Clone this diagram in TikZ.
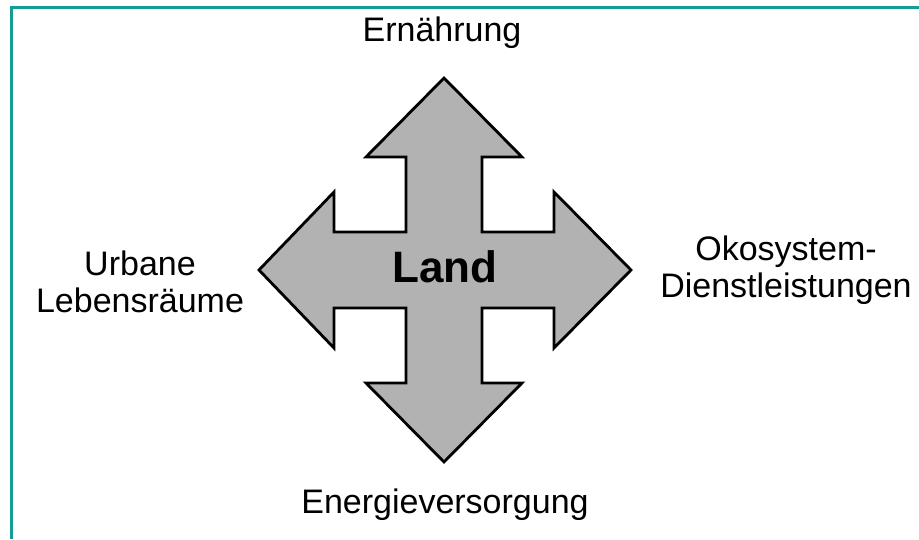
\documentclass[tikz,border=0pt]{standalone}
\usepackage{fontspec}
\setmainfont{Liberation Sans}
\usepackage{xcolor}
\usepackage{tikz}
\usetikzlibrary{positioning}

\definecolor{cornice}{RGB}{22,156,150}
\definecolor{grigio}{RGB}{178,178,178}

\begin{document}
\begin{tikzpicture}[x=1pt, y=-1pt,
	etichetta/.style={font=\fontsize{34}{37}\selectfont, align=center, inner sep=0pt}]
	\useasboundingbox (0,0) rectangle (919,539);
	
	% cornice
	\draw[cornice, line width=3pt] (11,539) -- (11,7) -- (919,7);
	
	% freccia a quattro punte
	\begin{scope}[shift={(444,270)}]
		\draw[fill=grigio, line width=2.8pt, line join=miter]
		(0,-192) -- (78,-113) -- (38,-113) -- (38,-38) -- (110,-38) -- (110,-78)
		-- (187,0) -- (110,78) -- (110,38) -- (38,38) -- (38,113) -- (78,113)
		-- (0,192) -- (-78,113) -- (-38,113) -- (-38,38) -- (-110,38) -- (-110,78)
		-- (-185,0) -- (-110,-78) -- (-110,-38) -- (-38,-38) -- (-38,-113) -- (-78,-113)
		-- cycle;
	\end{scope}
	\node[font=\fontsize{44}{50}\selectfont\bfseries, anchor=base] (land) at (445,282) {Land};
	
	% etichette
	\node[etichetta, anchor=base] (cibo) at (442,41) {Ernährung};
	\node[etichetta] (urbano) at (140,282) {Urbane\\Lebensräume};
	\node[etichetta] (eco) at (786,270) {Okosystem-\\Dienstleistungen};
	\node[etichetta, anchor=base] (energia) at (445,513) {Energieversorgung};
	
\end{tikzpicture}
\end{document}
